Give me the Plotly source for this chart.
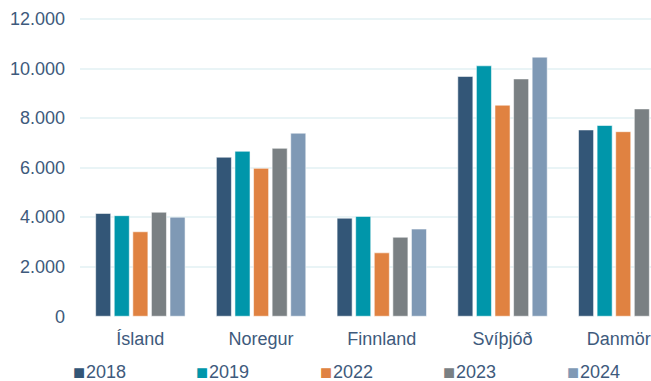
import plotly.graph_objects as go

# Countries on the x axis
countries = ["Ísland", "Noregur", "Finnland", "Svíþjóð", "Danmörk"]

# Yearly values per country
years = ["2018", "2019", "2022", "2023", "2024"]
v2018 = [4150, 6420, 3960, 9680, 7520]
v2019 = [4060, 6660, 4030, 10110, 7700]
v2022 = [3410, 5970, 2560, 8520, 7450]
v2023 = [4200, 6780, 3190, 9580, 8370]
v2024 = [4000, 7390, 3520, 10460, 8500]
series = [v2018, v2019, v2022, v2023, v2024]

colors = ["#335677", "#0096aa", "#e08241", "#7a8083", "#7f99b5"]
y_ticks = [0, 2000, 4000, 6000, 8000, 10000, 12000]

text_color = "#3e5a7c"
grid_color = "#e9f4f6"
font_family = "Liberation Sans, Arial, sans-serif"

fig = go.Figure()
for name, vals, col in zip(years, series, colors):
    fig.add_trace(go.Bar(
        x=countries, y=vals, name=name,
        marker=dict(color=col, line=dict(color="rgba(255,255,255,0.55)", width=1)),
        showlegend=False,
    ))

# Legend row: a coloured square followed by the year for each series
plot_left, plot_width = 80, 571
for i, (name, col) in enumerate(zip(years, colors)):
    x0 = 78.5 + i * 123.5
    fig.add_annotation(
        xref="paper", yref="paper",
        x=(x0 - plot_left) / plot_width, y=-0.182,
        xanchor="center", yanchor="middle",
        text="■", showarrow=False,
        font=dict(size=20, color=col, family=font_family),
    )
    fig.add_annotation(
        xref="paper", yref="paper",
        x=(x0 + 5 - plot_left) / plot_width, y=-0.184,
        xanchor="left", yanchor="middle",
        text=name, showarrow=False,
        font=dict(size=18, color=text_color, family=font_family),
    )

fig.update_layout(
    width=651, height=381,
    margin=dict(l=80, r=0, t=17, b=64),
    plot_bgcolor="white", paper_bgcolor="white",
    barmode="group", bargap=0.23, bargroupgap=0.19,
    separators=",.",
    font=dict(family=font_family, size=18, color=text_color),
    xaxis=dict(range=[-0.5, 4.23], showgrid=False, showline=False,
               automargin=False, ticklabelstandoff=9,
               tickfont=dict(size=18, color=text_color)),
    yaxis=dict(range=[-30, 12080], tickvals=y_ticks, tickformat=",d",
               showgrid=True, gridcolor=grid_color, gridwidth=2,
               zeroline=False, showline=False, ticklabelstandoff=14,
               automargin=False,
               tickfont=dict(size=18, color=text_color)),
)

fig.write_html("out.html")
